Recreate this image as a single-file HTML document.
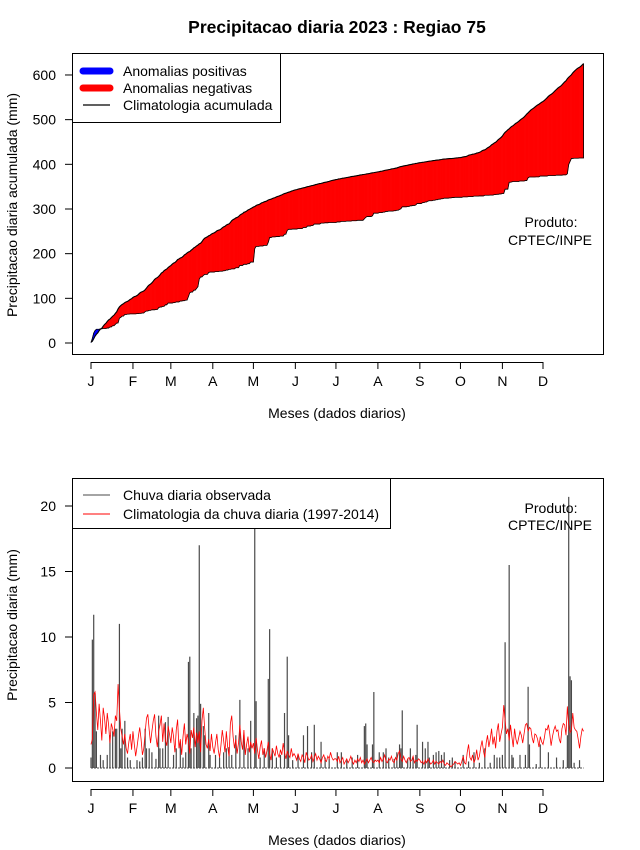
<!DOCTYPE html>
<html><head><meta charset="utf-8"><style>
body{margin:0;background:#fff;}
svg{display:block;font-family:"Liberation Sans",Arial,sans-serif;}
</style></head><body>
<svg id="c" width="640" height="850" viewBox="0 0 640 850"></svg>
<script>
const monthLabels=["J","F","M","A","M","J","J","A","S","O","N","D"];
const monthStartDays=[1,32,60,91,121,152,182,213,244,274,305,335];
const topTicks=[0,100,200,300,400,500,600];
const botTicks=[0,5,10,15,20];
const climJan=[1.8,2.2,5.6,5.8,4.2,2.9,4.9,3.6,2.1,4.6,3.8,2.6,4.2,3.3,1.9,3.4,3.0,2.4,4.0,3.6,6.4,4.5,3.0,2.4,1.8,2.6,1.5,1.1,2.0,2.6,1.4];
const climFeb=[2.8,1.8,0.9,1.6,2.4,3.1,2.2,1.0,1.5,2.7,3.8,4.1,2.9,1.9,2.8,3.6,4.1,2.4,1.6,2.8,3.3,4.0,2.0,3.4,2.1,1.7,3.2,2.6];
const climMar=[1.9,3.1,2.4,1.2,2.9,3.7,1.5,2.2,1.0,2.4,3.4,1.8,2.6,2.1,1.1,2.9,2.3,3.1,1.6,2.7,1.9,2.8,1.2,3.6,4.6,3.0,1.8,1.5,2.2,1.3,2.6];
const climApr=[1.6,1.1,1.9,2.6,1.4,0.8,1.7,2.9,2.1,1.2,2.8,1.6,0.9,3.4,4.0,2.4,1.5,2.2,1.1,1.9,3.3,2.0,1.4,2.9,1.0,1.8,2.4,1.2,2.0,1.5];
const climMay=[1.9,1.1,2.3,1.4,0.7,1.6,2.1,1.0,1.5,0.8,1.3,2.0,1.1,0.6,1.5,1.2,0.9,1.7,1.1,0.8,1.4,1.0,1.9,1.2,0.7,1.3,1.0,0.8,1.5,0.9,1.1];
const climJun=[0.9,0.6,1.1,0.7,0.5,1.0,0.8,0.4,1.2,0.9,0.6,0.7,1.0,0.5,0.8,1.1,0.6,0.9,0.7,0.4,0.8,1.0,0.6,0.5,0.9,0.7,1.2,0.8,0.6,0.7];
const climJul=[0.7,0.5,0.9,0.4,0.6,0.8,0.3,0.5,0.7,0.4,0.6,0.9,0.5,0.3,0.6,0.4,0.7,0.5,0.8,0.4,0.6,0.3,0.5,0.7,0.4,0.6,0.8,0.5,0.4,0.6,0.5];
const climAug=[0.6,0.4,0.8,0.5,0.7,1.0,0.5,0.4,0.7,0.6,0.9,0.5,0.4,0.8,0.6,1.1,1.3,0.7,0.5,0.9,0.6,0.4,0.7,0.8,0.5,0.6,0.9,0.4,0.6,0.5,0.7];
const climSep=[0.6,0.4,0.5,0.3,0.6,0.4,0.7,0.5,0.3,0.4,0.6,0.3,0.5,0.4,0.3,0.5,0.4,0.6,0.3,0.2,0.4,0.3,0.2,0.1,0.2,0.3,0.5,0.4,0.3,0.4];
const climOct=[0.2,0.5,0.9,0.4,0.3,1.2,1.8,0.8,0.6,1.0,0.4,0.7,1.4,0.6,0.9,1.6,2.1,1.3,0.8,1.9,2.5,1.6,2.2,3.0,1.8,2.4,1.5,2.8,3.4,2.0,2.6];
const climNov=[3.1,4.8,3.6,2.6,3.0,2.1,3.3,2.4,1.6,3.0,2.2,1.8,2.3,2.8,2.5,1.9,2.6,3.3,3.4,2.8,3.1,3.0,2.3,1.9,2.6,2.5,2.2,1.6,2.4,2.0];
const climDec=[1.8,2.3,3.0,2.9,3.3,2.6,1.7,2.4,2.9,3.2,2.8,2.9,2.2,1.9,3.0,3.4,3.3,2.5,4.7,3.3,2.7,2.9,4.2,3.1,2.9,2.8,2.2,1.5,2.4,3.0,2.8];
const obsDays=[1,2,3,4,5,8,10,13,15,17,19,20,22,23,24,26,28,30,
35,37,39,41,42,44,46,49,51,52,54,56,58,
62,64,67,69,71,73,74,75,77,79,80,81,82,84,85,88,89,
93,96,99,101,103,105,108,111,114,117,119,
122,123,126,129,132,133,135,138,141,144,146,147,150,
154,158,161,164,166,171,174,177,
183,186,190,194,198,203,204,205,209,210,
214,217,219,221,225,227,229,230,231,235,237,239,241,242,
246,248,250,251,254,256,258,260,262,266,268,270,
276,280,284,288,292,296,299,301,303,
305,307,310,312,313,318,322,324,325,330,333,
339,345,350,353,354,355,356,358,362];
const obsVals=[0.8,9.8,11.7,5.7,2.8,1.0,0.6,1.0,2.5,2.8,3.0,3.0,11.0,1.5,3.0,3.6,0.8,0.6,
0.6,0.5,0.8,3.0,1.5,1.5,1.2,0.7,4.0,1.5,1.5,3.5,3.9,
1.0,1.5,2.0,0.8,1.2,8.1,8.5,1.5,4.2,3.8,4.0,17.0,4.9,3.2,2.5,4.2,1.0,
1.0,0.8,1.2,1.5,1.6,1.0,2.5,5.2,2.5,1.5,3.6,
30.0,5.1,0.8,1.5,6.8,10.6,1.5,0.8,1.0,4.2,8.5,2.5,0.6,
1.0,2.5,3.2,1.2,3.3,2.0,0.8,0.7,
1.2,1.2,0.6,0.8,1.0,3.2,3.4,1.8,1.8,5.8,
1.2,1.2,1.5,0.8,0.7,1.2,1.8,1.5,4.4,0.7,1.5,0.8,1.0,3.3,
2.0,1.5,2.0,0.8,1.0,1.2,1.3,1.0,1.2,0.6,0.8,0.5,
1.0,0.5,1.2,0.4,1.5,0.4,1.0,0.8,0.8,
1.0,9.6,15.5,1.0,0.8,1.0,1.0,6.2,1.8,0.3,1.8,
1.2,0.8,0.6,2.5,20.7,7.0,6.7,0.4,0.6];

const clim=[].concat(climJan,climFeb,climMar,climApr,climMay,climJun,climJul,climAug,climSep,climOct,climNov,climDec);
const N=clim.length;
const obs=new Array(N).fill(0);
obsDays.forEach((d,i)=>{obs[d-1]+=obsVals[i];});
const cumC=[],cumO=[];let sc=0,so=0;
for(let i=0;i<N;i++){sc+=clim[i];so+=obs[i];cumC.push(sc);cumO.push(so);}

const svg=document.getElementById('c');
const NS="http://www.w3.org/2000/svg";
function mk(tag,attrs,parent){const e=document.createElementNS(NS,tag);for(const k in attrs)e.setAttribute(k,attrs[k]);(parent||svg).appendChild(e);return e;}
function txt(s,x,y,attrs,parent){const t=mk('text',Object.assign({x:x,y:y},attrs),parent);t.textContent=s;return t;}

const FS='14';
const X=d=>91+(d-1)*(543-91)/334;
const Yt=v=>343-v*0.4467;
const Yb=v=>768-v*13.1;

const title=txt("Precipitacao diaria 2023 : Regiao 75",337,33,{"text-anchor":"middle","font-size":"17.5","font-weight":"bold"});



// ===== TOP PANEL =====
const gTop=mk('g',{});


const cpt=mk('clipPath',{id:'clipTop'},mk('defs',{}));
mk('rect',{x:72,y:53,width:531,height:301},cpt);
const gArea=mk('g',{'clip-path':'url(#clipTop)'},gTop);
for(let i=0;i<N-1;i++){
  const x1=X(i+1),x2=X(i+2);
  const d1=cumO[i]-cumC[i],d2=cumO[i+1]-cumC[i+1];
  const col=(d1+d2)>0?'#0000ff':'#ff0000';
  const p=mk('polygon',{points:`${x1},${Yt(cumC[i])} ${x2},${Yt(cumC[i+1])} ${x2},${Yt(cumO[i+1])} ${x1},${Yt(cumO[i])}`,fill:col,stroke:col,'stroke-width':'0.5'},gArea);
  
  
}
const cl=mk('polyline',{points:cumC.map((v,i)=>`${X(i+1)},${Yt(v)}`).join(' '),fill:'none',stroke:'#000','stroke-width':'1.1'},gArea);


const ol=mk('polyline',{points:cumO.map((v,i)=>`${X(i+1)},${Yt(v)}`).join(' ')+` ${X(N)},${Yt(cumC[N-1])}`,fill:'none',stroke:'#000','stroke-width':'0.8'},gArea);


mk('rect',{x:72.5,y:53.5,width:531,height:301,fill:'none',stroke:'#000','stroke-width':'1'},gTop);
topTicks.forEach(v=>{
  mk('line',{x1:65,x2:72,y1:Yt(v),y2:Yt(v),stroke:'#000'},gTop);
  const t=txt(String(v),56,Yt(v)+5,{'text-anchor':'end','font-size':FS},gTop);
  
  
});
mk('line',{x1:X(1),x2:X(monthStartDays[11]),y1:362.5,y2:362.5,stroke:'#000'},gTop);
monthStartDays.forEach((d,i)=>{
  mk('line',{x1:X(d),x2:X(d),y1:362,y2:369,stroke:'#000'},gTop);
  const t=txt(monthLabels[i],X(d),386,{'text-anchor':'middle','font-size':FS},gTop);
  
  
});
let t1=txt("Meses (dados diarios)",337,418,{'text-anchor':'middle','font-size':FS},gTop);


t1=txt("Precipitacao diaria acumulada (mm)",0,0,{'text-anchor':'middle','font-size':FS,transform:'translate(17,205) rotate(-90)'},gTop);


t1=txt("Produto:",551,227,{'text-anchor':'middle','font-size':FS},gTop);


t1=txt("CPTEC/INPE",550,245,{'text-anchor':'middle','font-size':FS},gTop);


const lg=mk('g',{},gTop);


mk('rect',{x:72.5,y:53.5,width:208,height:69,fill:'#fff',stroke:'#000'},lg);
mk('line',{x1:83,x2:110,y1:71,y2:71,stroke:'#0000ff','stroke-width':'7','stroke-linecap':'round'},lg);
mk('line',{x1:83,x2:110,y1:88,y2:88,stroke:'#ff0000','stroke-width':'7','stroke-linecap':'round'},lg);
mk('line',{x1:83,x2:110,y1:105,y2:105,stroke:'#000','stroke-width':'1.2'},lg);
[["Anomalias positivas",71],["Anomalias negativas",88],["Climatologia acumulada",105]].forEach(a=>{
  const t=txt(a[0],123,a[1]+5,{'font-size':FS},lg);
  
  
});

// ===== BOTTOM PANEL =====
const gBot=mk('g',{});


const cp=mk('clipPath',{id:'clipBot'},mk('defs',{}));
mk('rect',{x:72,y:478,width:531,height:303},cp);
const gB=mk('g',{'clip-path':'url(#clipBot)'},gBot);
for(let i=0;i<N;i++){
  if(obs[i]<=0) continue;
  const b=mk('line',{x1:X(i+1),x2:X(i+1),y1:Yb(0),y2:Yb(obs[i]),stroke:'#4a4a4a','stroke-width':'1.2'},gB);
  
  
}
mk('line',{x1:X(1),x2:X(N),y1:Yb(0),y2:Yb(0),stroke:'#4a4a4a','stroke-width':'1','stroke-dasharray':'2,1'},gB);
const rl=mk('polyline',{points:clim.map((v,i)=>`${X(i+1)},${Yb(v)}`).join(' '),fill:'none',stroke:'#ff0000','stroke-width':'0.8'},gB);


mk('rect',{x:72.5,y:478.5,width:531,height:303,fill:'none',stroke:'#000'},gBot);
botTicks.forEach(v=>{
  mk('line',{x1:65,x2:72,y1:Yb(v),y2:Yb(v),stroke:'#000'},gBot);
  const t=txt(String(v),56,Yb(v)+5,{'text-anchor':'end','font-size':FS},gBot);
  
  
});
mk('line',{x1:X(1),x2:X(monthStartDays[11]),y1:789.5,y2:789.5,stroke:'#000'},gBot);
monthStartDays.forEach((d,i)=>{
  mk('line',{x1:X(d),x2:X(d),y1:789,y2:796,stroke:'#000'},gBot);
  const t=txt(monthLabels[i],X(d),813,{'text-anchor':'middle','font-size':FS},gBot);
  
  
});
t1=txt("Meses (dados diarios)",337,845,{'text-anchor':'middle','font-size':FS},gBot);


t1=txt("Precipitacao diaria (mm)",0,0,{'text-anchor':'middle','font-size':FS,transform:'translate(17,625) rotate(-90)'},gBot);


t1=txt("Produto:",551,513,{'text-anchor':'middle','font-size':FS},gBot);


t1=txt("CPTEC/INPE",550,530,{'text-anchor':'middle','font-size':FS},gBot);


const lg2=mk('g',{},gBot);


mk('rect',{x:72.5,y:478.5,width:318,height:50,fill:'#fff',stroke:'#000'},lg2);
mk('line',{x1:83,x2:110,y1:495,y2:495,stroke:'#4a4a4a','stroke-width':'1'},lg2);
mk('line',{x1:83,x2:110,y1:514,y2:514,stroke:'#ff0000','stroke-width':'1'},lg2);
[["Chuva diaria observada",495],["Climatologia da chuva diaria (1997-2014)",514]].forEach(a=>{
  const t=txt(a[0],123,a[1]+5,{'font-size':FS},lg2);
  
  
});
</script>
</body></html>
